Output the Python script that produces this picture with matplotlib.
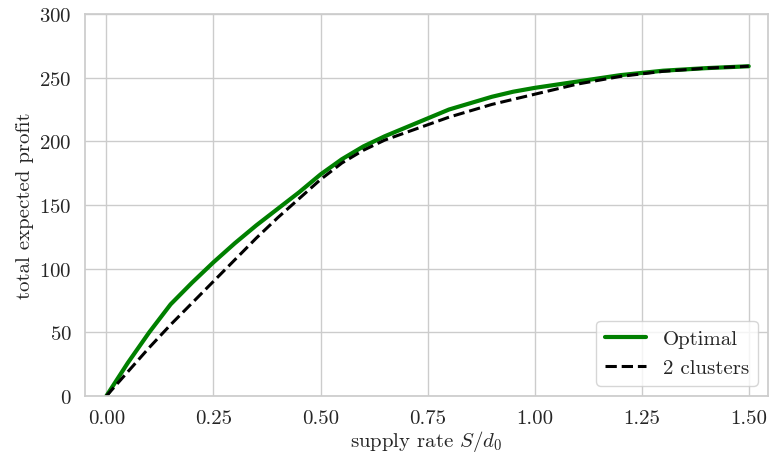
import matplotlib
matplotlib.use("Agg")
import matplotlib.pyplot as plt
import seaborn as sns

# supply rate S/d0 and total expected profit
rate_opt = [0.0, 0.05, 0.10, 0.15, 0.20, 0.25, 0.30, 0.35, 0.40, 0.45, 0.50, 0.55, 0.60,
            0.65, 0.70, 0.75, 0.80, 0.85, 0.90, 0.95, 1.00, 1.10, 1.20, 1.30, 1.40, 1.50]
profit_opt = [0, 26, 50, 72, 89, 105, 120, 134, 147, 160, 174, 186, 196,
              204, 211, 218, 225, 230, 235, 239, 242, 247, 252, 255.5, 257.5, 259]

rate_two = [0.0, 0.05, 0.10, 0.15, 0.20, 0.25, 0.30, 0.35, 0.40, 0.45, 0.50, 0.55, 0.60,
            0.65, 0.70, 0.75, 0.80, 0.85, 0.90, 0.95, 1.00, 1.10, 1.20, 1.30, 1.40, 1.50]
profit_two = [0, 19, 38, 56, 73, 90, 107, 124, 140, 155, 170, 183, 193,
              201, 207, 213, 219, 224, 229, 233, 237, 245, 251, 255, 257.5, 259]

sns.set_theme(style="whitegrid")
plt.rcParams['font.family'] = ['cmr10', 'DejaVu Serif']
plt.rcParams['mathtext.fontset'] = 'cm'
plt.rcParams['axes.formatter.use_mathtext'] = True
plt.rcParams['axes.unicode_minus'] = False

fig, ax = plt.subplots(figsize=(7.69, 4.56), dpi=100)
fig.subplots_adjust(left=0.1105, right=0.9987, bottom=0.1294, top=0.967)

ax.plot(rate_opt, profit_opt, color='green', linewidth=3, label='Optimal')
ax.plot(rate_two, profit_two, color='black', linestyle='--', linewidth=2.2, label='2 clusters')

ax.set_xlim(-0.05, 1.545)
ax.set_ylim(0, 300)
ax.set_xticks([0, 0.25, 0.5, 0.75, 1.0, 1.25, 1.5])
ax.set_xticklabels(['0.00', '0.25', '0.50', '0.75', '1.00', '1.25', '1.50'])
ax.set_yticks(range(0, 301, 50))
ax.tick_params(labelsize=15)
ax.set_xlabel('supply rate $S/d_0$', fontsize=15, labelpad=1)
ax.set_ylabel('total expected profit', fontsize=15)
ax.legend(loc='lower right', fontsize=15)

fig.savefig('out.png', dpi=100)
